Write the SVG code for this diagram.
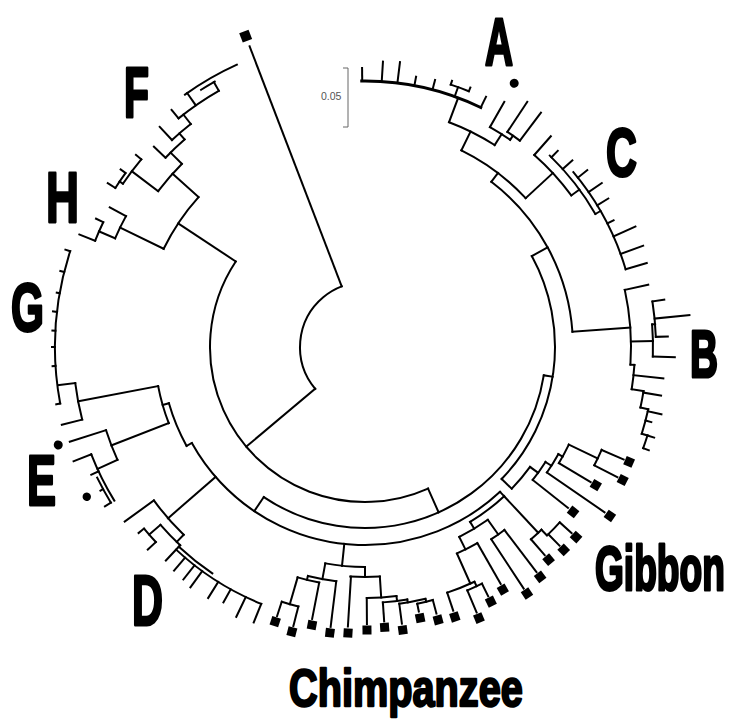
<svg xmlns="http://www.w3.org/2000/svg" width="729" height="720" viewBox="0 0 729 720">
<style>
.t line,.t circle{fill:none;stroke:#000;stroke-width:2;stroke-linecap:square}
.tips rect{fill:#000}
.dot{fill:#000}
.lab{font-family:"Liberation Sans",Arial,sans-serif;font-weight:bold;fill:#000;stroke:#000;stroke-width:1.8;stroke-linejoin:round}
</style>
<rect width="729" height="720" fill="#fff"/>
<g id="tree" class="t" transform="translate(365,347)">
<!-- root -->
<circle r="65" pathLength="360" stroke-dasharray="109 999" transform="rotate(140)"/>
<line x1="65" x2="322" transform="rotate(249)"/>
<line x1="65" x2="155" transform="rotate(140)"/>
<!-- C1 -->
<circle r="155" pathLength="360" stroke-dasharray="147.5 999" transform="rotate(66)"/>
<line x1="155" x2="181" transform="rotate(66)"/>
<line x1="155" x2="224" transform="rotate(213.5)"/>
<!-- FH -->
<circle r="224" pathLength="360" stroke-dasharray="16 999" transform="rotate(206)"/>
<line x1="224" x2="259" transform="rotate(222)"/>
<line x1="224" x2="272.5" transform="rotate(206)"/>
<!-- F -->
<circle r="259" pathLength="360" stroke-dasharray="8 999" transform="rotate(217)"/>
<line x1="259" x2="292" transform="rotate(217)"/>
<circle r="292" pathLength="360" stroke-dasharray="6 999" transform="rotate(214)"/>
<line x1="292" x2="299" transform="rotate(220)"/>
<line x1="292" x2="296" transform="rotate(214)"/>
<circle r="296" pathLength="360" stroke-dasharray="3.5 999" transform="rotate(212.5)"/>
<line x1="296" x2="305" transform="rotate(212.5)"/>
<line x1="296" x2="302" transform="rotate(216)"/>
<line x1="259" x2="275" transform="rotate(225)"/>
<circle r="275" pathLength="360" stroke-dasharray="5.5 999" transform="rotate(223.5)"/>
<line x1="275" x2="291" transform="rotate(223.5)"/>
<line x1="275" x2="283" transform="rotate(229)"/>
<circle r="283" pathLength="360" stroke-dasharray="5 999" transform="rotate(227)"/>
<line x1="283" x2="301" transform="rotate(227)"/>
<line x1="283" x2="295" transform="rotate(232)"/>
<circle r="295" pathLength="360" stroke-dasharray="9.5 999" transform="rotate(230.8)"/>
<line x1="295" x2="306" transform="rotate(230.8)"/>
<line x1="295" x2="310" transform="rotate(235)"/>
<circle r="310" pathLength="360" stroke-dasharray="11.1 999" transform="rotate(234.5)"/>
<line x1="295" x2="305" transform="rotate(240.3)"/>
<circle r="305" pathLength="360" stroke-dasharray="3 999" transform="rotate(237.5)"/>
<!-- H -->
<circle r="272.5" pathLength="360" stroke-dasharray="5.2 999" transform="rotate(203.5)"/>
<line x1="272.5" x2="291" transform="rotate(208.7)"/>
<line x1="272.5" x2="290" transform="rotate(203.5)"/>
<circle r="290" pathLength="360" stroke-dasharray="4 999" transform="rotate(201.5)"/>
<line x1="290" x2="298" transform="rotate(205.5)"/>
<line x1="290" x2="307" transform="rotate(201.5)"/>
<!-- C2 -->
<circle r="181" pathLength="360" stroke-dasharray="115 999" transform="rotate(9)"/>
<line x1="181" x2="198" transform="rotate(124)"/>
<line x1="181" x2="190" transform="rotate(9)"/>
<!-- L -->
<circle r="198" pathLength="360" stroke-dasharray="104 999" transform="rotate(47)"/>
<circle r="204" pathLength="360" stroke-dasharray="12 999" transform="rotate(47)"/>
<line x1="198" x2="204" transform="rotate(47)"/>
<line x1="198" x2="220" transform="rotate(96)"/>
<line x1="198" x2="261" transform="rotate(139)"/>
<line x1="198" x2="204" transform="rotate(151)"/>
<!-- M1 / GE -->
<circle r="204" pathLength="360" stroke-dasharray="13 999" transform="rotate(151)"/>
<line x1="204" x2="210.5" transform="rotate(164)"/>
<circle r="210.5" pathLength="360" stroke-dasharray="10.5 999" transform="rotate(158.8)"/>
<line x1="210.5" x2="292" transform="rotate(169.3)"/>
<line x1="210.5" x2="272" transform="rotate(158.8)"/>
<!-- G -->
<circle r="292" pathLength="360" stroke-dasharray="7.3 999" transform="rotate(165.6)"/>
<line x1="292" x2="313" transform="rotate(165.6)"/>
<line x1="292" x2="309" transform="rotate(172.9)"/>
<circle r="310" pathLength="360" stroke-dasharray="28.5 999" transform="rotate(169.5)"/>
<line x1="310" x2="314" transform="rotate(169.5)"/>
<line x1="310" x2="313" transform="rotate(176.5)"/>
<line x1="310" x2="313" transform="rotate(180)"/>
<line x1="310" x2="313" transform="rotate(183)"/>
<line x1="310" x2="314" transform="rotate(186.5)"/>
<line x1="310" x2="313" transform="rotate(190)"/>
<line x1="310" x2="314" transform="rotate(194)"/>
<line x1="310" x2="315" transform="rotate(198)"/>
<!-- E -->
<circle r="272" pathLength="360" stroke-dasharray="6.7 999" transform="rotate(155.5)"/>
<line x1="272" x2="310" transform="rotate(162.2)"/>
<line x1="272" x2="294" transform="rotate(155.5)"/>
<circle r="294" pathLength="360" stroke-dasharray="10.1 999" transform="rotate(148.5)"/>
<circle r="298" pathLength="360" stroke-dasharray="5.5 999" transform="rotate(148.5)"/>
<line x1="294" x2="313" transform="rotate(158.6)"/>
<line x1="294" x2="302" transform="rotate(155)"/>
<line x1="298" x2="301" transform="rotate(151.5)"/>
<line x1="298" x2="305" transform="rotate(148.5)"/>
<!-- D -->
<circle r="261" pathLength="360" stroke-dasharray="10 999" transform="rotate(134)"/>
<line x1="261" x2="297" transform="rotate(144)"/>
<line x1="261" x2="271" transform="rotate(134)"/>
<circle r="271" pathLength="360" stroke-dasharray="6 999" transform="rotate(133)"/>
<line x1="271" x2="286" transform="rotate(139)"/>
<circle r="286" pathLength="360" stroke-dasharray="3.6 999" transform="rotate(137)"/>
<line x1="286" x2="293" transform="rotate(140.6)"/>
<line x1="286" x2="297" transform="rotate(137)"/>
<line x1="271" x2="292" transform="rotate(133)"/>
<circle r="277" pathLength="360" stroke-dasharray="21 999" transform="rotate(112)"/>
<circle r="273" pathLength="360" stroke-dasharray="9 999" transform="rotate(124)"/>
<line x1="277" x2="294" transform="rotate(130.5)"/>
<line x1="277" x2="295" transform="rotate(128)"/>
<line x1="277" x2="297" transform="rotate(126)"/>
<line x1="277" x2="296" transform="rotate(122)"/>
<line x1="277" x2="292" transform="rotate(119)"/>
<line x1="277" x2="299" transform="rotate(115.5)"/>
<line x1="277" x2="297" transform="rotate(112)"/>
<!-- Chimpanzee -->
<circle r="220" pathLength="360" stroke-dasharray="10.4 999" transform="rotate(90)"/>
<line x1="220" x2="236" transform="rotate(100.4)"/>
<circle r="236" pathLength="360" stroke-dasharray="7 999" transform="rotate(97)"/>
<line x1="236" x2="282" transform="rotate(97)"/>
<line x1="236" x2="240" transform="rotate(104)"/>
<circle r="240" pathLength="360" stroke-dasharray="5.3 999" transform="rotate(101)"/>
<line x1="240" x2="277" transform="rotate(101)"/>
<line x1="240" x2="268" transform="rotate(106.3)"/>
<circle r="268" pathLength="360" stroke-dasharray="3.7 999" transform="rotate(104.4)"/>
<line x1="268" x2="283" transform="rotate(108.1)"/>
<line x1="268" x2="288" transform="rotate(104.4)"/>
<line x1="220" x2="230" transform="rotate(90)"/>
<circle r="230" pathLength="360" stroke-dasharray="7.4 999" transform="rotate(86.3)"/>
<line x1="230" x2="280" transform="rotate(93.5)"/>
<line x1="230" x2="251" transform="rotate(86.3)"/>
<circle r="251" pathLength="360" stroke-dasharray="6.8 999" transform="rotate(82.8)"/>
<line x1="251" x2="277" transform="rotate(89.6)"/>
<line x1="251" x2="256" transform="rotate(82.8)"/>
<circle r="256" pathLength="360" stroke-dasharray="5.5 999" transform="rotate(80.5)"/>
<line x1="256" x2="275" transform="rotate(86)"/>
<line x1="256" x2="259" transform="rotate(80.5)"/>
<circle r="259" pathLength="360" stroke-dasharray="5.9 999" transform="rotate(76.5)"/>
<line x1="259" x2="279" transform="rotate(82.4)"/>
<line x1="259" x2="262" transform="rotate(76.5)"/>
<circle r="262" pathLength="360" stroke-dasharray="3.5 999" transform="rotate(75)"/>
<line x1="262" x2="270" transform="rotate(78.5)"/>
<line x1="262" x2="276" transform="rotate(75)"/>
<!-- Gibbon lower -->
<line x1="204" x2="254" transform="rotate(47)"/>
<circle r="254" pathLength="360" stroke-dasharray="3.2 999" transform="rotate(46)"/>
<line x1="254" x2="275" transform="rotate(49.2)"/>
<line x1="254" x2="262" transform="rotate(46)"/>
<circle r="262" pathLength="360" stroke-dasharray="3.6 999" transform="rotate(42)"/>
<line x1="262" x2="278" transform="rotate(45.6)"/>
<line x1="262" x2="278" transform="rotate(42)"/>
<line x1="204" x2="212" transform="rotate(59)"/>
<circle r="212" pathLength="360" stroke-dasharray="9 999" transform="rotate(54.6)"/>
<line x1="212" x2="230" transform="rotate(54.6)"/>
<circle r="230" pathLength="360" stroke-dasharray="4 999" transform="rotate(52.7)"/>
<line x1="230" x2="289" transform="rotate(56.7)"/>
<line x1="230" x2="283" transform="rotate(52.7)"/>
<line x1="212" x2="226" transform="rotate(63.6)"/>
<circle r="226" pathLength="360" stroke-dasharray="5.8 999" transform="rotate(60.2)"/>
<line x1="226" x2="273" transform="rotate(60.2)"/>
<line x1="226" x2="259" transform="rotate(66)"/>
<circle r="259" pathLength="360" stroke-dasharray="6.5 999" transform="rotate(65)"/>
<line x1="259" x2="278" transform="rotate(71.5)"/>
<line x1="259" x2="264" transform="rotate(65)"/>
<circle r="264" pathLength="360" stroke-dasharray="3.5 999" transform="rotate(63.7)"/>
<line x1="264" x2="288" transform="rotate(67.2)"/>
<line x1="264" x2="278" transform="rotate(63.7)"/>
<!-- R -->
<circle r="190" pathLength="360" stroke-dasharray="72.6 999" transform="rotate(-28.6)"/>
<!-- Gibbon upper -->
<line x1="190" x2="204" transform="rotate(44)"/>
<circle r="204" pathLength="360" stroke-dasharray="8 999" transform="rotate(36)"/>
<line x1="204" x2="214" transform="rotate(36)"/>
<circle r="214" pathLength="360" stroke-dasharray="5.9 999" transform="rotate(32.5)"/>
<line x1="214" x2="259" transform="rotate(38.4)"/>
<line x1="214" x2="221" transform="rotate(32.5)"/>
<circle r="221" pathLength="360" stroke-dasharray="5.6 999" transform="rotate(29)"/>
<line x1="221" x2="291" transform="rotate(34.6)"/>
<line x1="221" x2="226" transform="rotate(29)"/>
<circle r="226" pathLength="360" stroke-dasharray="5.3 999" transform="rotate(25.6)"/>
<line x1="226" x2="263" transform="rotate(30.9)"/>
<line x1="226" x2="258" transform="rotate(25.6)"/>
<circle r="258" pathLength="360" stroke-dasharray="3.8 999" transform="rotate(23.5)"/>
<line x1="258" x2="284" transform="rotate(27.3)"/>
<line x1="258" x2="282" transform="rotate(23.5)"/>
<!-- P (A, C, B) -->
<line x1="190" x2="208" transform="rotate(-28.6)"/>
<circle r="208" pathLength="360" stroke-dasharray="48.4 999" transform="rotate(-52.6)"/>
<line x1="208" x2="266" transform="rotate(-4.2)"/>
<line x1="208" x2="219" transform="rotate(-52.6)"/>
<circle r="219" pathLength="360" stroke-dasharray="21.1 999" transform="rotate(-63.9)"/>
<!-- C -->
<line x1="219" x2="256" transform="rotate(-42.8)"/>
<circle r="256" pathLength="360" stroke-dasharray="12.3 999" transform="rotate(-48.6)"/>
<line x1="256" x2="281" transform="rotate(-48.6)"/>
<line x1="256" x2="266" transform="rotate(-36.3)"/>
<circle r="266" pathLength="360" stroke-dasharray="16 999" transform="rotate(-46)"/>
<circle r="272" pathLength="360" stroke-dasharray="23.4 999" transform="rotate(-40)"/>
<line x1="266" x2="272" transform="rotate(-30)"/>
<line x1="266" x2="275" transform="rotate(-45.5)"/>
<line x1="266" x2="279" transform="rotate(-42)"/>
<line x1="272" x2="284" transform="rotate(-38.5)"/>
<line x1="272" x2="288" transform="rotate(-34.7)"/>
<line x1="272" x2="285" transform="rotate(-31.4)"/>
<line x1="272" x2="279" transform="rotate(-27)"/>
<line x1="272" x2="296" transform="rotate(-24)"/>
<line x1="272" x2="296" transform="rotate(-20)"/>
<line x1="272" x2="294" transform="rotate(-16.6)"/>
<!-- A -->
<line x1="219" x2="240" transform="rotate(-63.9)"/>
<circle r="240" pathLength="360" stroke-dasharray="12.2 999" transform="rotate(-69.5)"/>
<line x1="240" x2="253" transform="rotate(-57.3)"/>
<circle r="253" pathLength="360" stroke-dasharray="5.4 999" transform="rotate(-60.4)"/>
<line x1="253" x2="282" transform="rotate(-60.4)"/>
<line x1="253" x2="258" transform="rotate(-55)"/>
<circle r="258" pathLength="360" stroke-dasharray="3.4 999" transform="rotate(-56.5)"/>
<line x1="258" x2="294" transform="rotate(-56.5)"/>
<line x1="258" x2="293" transform="rotate(-53.1)"/>
<line x1="240" x2="266" transform="rotate(-69.5)"/>
<circle r="266" pathLength="360" stroke-dasharray="26.5 999" transform="rotate(-90.7)" style="stroke-width:3"/>
<line x1="267" x2="279" transform="rotate(-90.6)"/>
<line x1="267" x2="286" transform="rotate(-86.4)"/>
<line x1="267" x2="287" transform="rotate(-83)"/>
<line x1="267" x2="275" transform="rotate(-79.3)"/>
<line x1="267" x2="276" transform="rotate(-75.3)"/>
<line x1="266" x2="276" transform="rotate(-70.3)"/>
<circle r="276" pathLength="360" stroke-dasharray="4 999" transform="rotate(-71.9)"/>
<line x1="276" x2="280" transform="rotate(-71.9)"/>
<line x1="276" x2="280" transform="rotate(-67.9)"/>
<line x1="266" x2="278" transform="rotate(-64.2)"/>
<!-- B -->
<circle r="266" pathLength="360" stroke-dasharray="16.2 999" transform="rotate(-12.4)"/>
<line x1="266" x2="290" transform="rotate(-12.4)"/>
<line x1="266" x2="288" transform="rotate(-1.2)"/>
<circle r="288" pathLength="360" stroke-dasharray="6.4 999" transform="rotate(-4.5)"/>
<line x1="288" x2="310" transform="rotate(1.9)"/>
<line x1="288" x2="291" transform="rotate(-4.5)"/>
<circle r="291" pathLength="360" stroke-dasharray="7 999" transform="rotate(-9)"/>
<line x1="291" x2="303" transform="rotate(-9)"/>
<line x1="291" x2="326" transform="rotate(-5.6)"/>
<line x1="291" x2="303" transform="rotate(-2)"/>
<line x1="266" x2="270" transform="rotate(3.8)"/>
<circle r="270" pathLength="360" stroke-dasharray="5.2 999" transform="rotate(3.8)"/>
<line x1="270" x2="300" transform="rotate(6)"/>
<line x1="270" x2="282" transform="rotate(9)"/>
<circle r="282" pathLength="360" stroke-dasharray="3.4 999" transform="rotate(9)"/>
<line x1="282" x2="300" transform="rotate(9.3)"/>
<line x1="282" x2="290" transform="rotate(12.4)"/>
<circle r="290" pathLength="360" stroke-dasharray="5 999" transform="rotate(12.4)"/>
<line x1="290" x2="304" transform="rotate(12.8)"/>
<line x1="290" x2="296" transform="rotate(14.7)"/>
<line x1="290" x2="296" transform="rotate(17.4)"/>
<circle r="296" pathLength="360" stroke-dasharray="2.6 999" transform="rotate(17.4)"/>
<line x1="296" x2="303" transform="rotate(17.4)"/>
<line x1="296" x2="302" transform="rotate(20)"/>
</g>
<g id="tips" class="tips" transform="translate(365,347)">
<rect x="328" y="-5" width="10" height="10" transform="rotate(249)"/>
<rect x="284.5" y="-4.5" width="9" height="9" transform="rotate(108.1)"/>
<rect x="289.5" y="-4.5" width="9" height="9" transform="rotate(104.4)"/>
<rect x="278.5" y="-4.5" width="9" height="9" transform="rotate(100.8)"/>
<rect x="283.5" y="-4.5" width="9" height="9" transform="rotate(97)"/>
<rect x="282" y="-4.5" width="9" height="9" transform="rotate(93.4)"/>
<rect x="278.5" y="-4.5" width="9" height="9" transform="rotate(89.6)"/>
<rect x="276.5" y="-4.5" width="9" height="9" transform="rotate(86)"/>
<rect x="281" y="-4.5" width="9" height="9" transform="rotate(82.4)"/>
<rect x="272" y="-4.5" width="9" height="9" transform="rotate(78.5)"/>
<rect x="278" y="-4.5" width="9" height="9" transform="rotate(75)"/>
<rect x="280" y="-4.5" width="9" height="9" transform="rotate(71.6)"/>
<rect x="289.5" y="-4.5" width="9" height="9" transform="rotate(67.2)"/>
<rect x="279.5" y="-4.5" width="9" height="9" transform="rotate(63.7)"/>
<rect x="274.5" y="-4.5" width="9" height="9" transform="rotate(60.4)"/>
<rect x="290.5" y="-4.5" width="9" height="9" transform="rotate(56.7)"/>
<rect x="284.5" y="-4.5" width="9" height="9" transform="rotate(52.7)"/>
<rect x="276.5" y="-4.5" width="9" height="9" transform="rotate(49.2)"/>
<rect x="279.5" y="-4.5" width="9" height="9" transform="rotate(45.6)"/>
<rect x="279.5" y="-4.5" width="9" height="9" transform="rotate(42)"/>
<rect x="261" y="-4.5" width="9" height="9" transform="rotate(38.4)"/>
<rect x="293" y="-4.5" width="9" height="9" transform="rotate(34.6)"/>
<rect x="264.5" y="-4.5" width="9" height="9" transform="rotate(30.9)"/>
<rect x="285.5" y="-4.5" width="9" height="9" transform="rotate(27.3)"/>
<rect x="283.5" y="-4.5" width="9" height="9" transform="rotate(23.5)"/>
<circle class="dot" cx="303" r="4.5" transform="rotate(-60.5)"/>
<circle class="dot" cx="322" r="4.5" transform="rotate(162.3)"/>
<circle class="dot" cx="316" r="4.2" transform="rotate(151.7)"/>
</g>
<g id="scale">
<path d="M343,68 H348 V127 H343" fill="none" stroke="#666" stroke-width="1"/>
<text x="321" y="100" font-family="Liberation Sans, Arial, sans-serif" font-size="10.5" fill="#555">0.05</text>
</g>
<g id="labels">
<text class="lab" x="485" y="37.62" font-size="38.8" transform="scale(1,1.728)">A</text>
<text class="lab" x="606" y="110.34" font-size="42.9" transform="scale(1,1.595)">C</text>
<text class="lab" x="690" y="218.17" font-size="38.8" transform="scale(1,1.728)">B</text>
<text class="lab" x="124" y="68.54" font-size="40.9" transform="scale(1,1.707)">F</text>
<text class="lab" x="46" y="145.29" font-size="45.7" transform="scale(1,1.528)">H</text>
<text class="lab" x="11" y="207.13" font-size="42.4" transform="scale(1,1.598)">G</text>
<text class="lab" x="27" y="314.64" font-size="43.5" transform="scale(1,1.605)">E</text>
<text class="lab" x="132" y="383.91" font-size="42.9" transform="scale(1,1.628)">D</text>
<text class="lab" x="595" y="343.02" font-size="37.1" transform="scale(1,1.72)">Gibbon</text>
<text class="lab" x="289" y="545.17" font-size="39.7" transform="scale(1,1.295)">Chimpanzee</text>
</g>
</svg>
